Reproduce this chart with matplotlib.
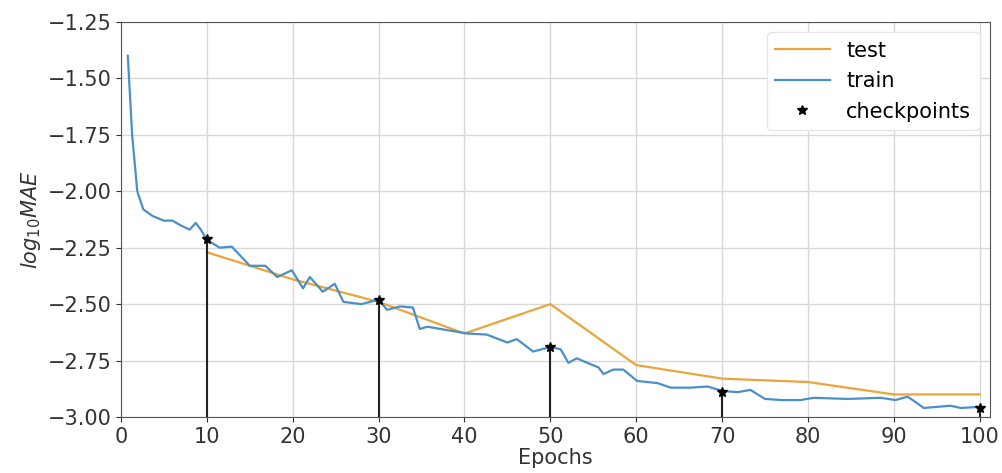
import matplotlib
matplotlib.use("Agg")
import matplotlib.pyplot as plt

# Training loss (log10 MAE) over epochs
train_epochs = [0.8, 1.3, 1.9, 2.6, 3.7, 5.0, 6.0, 6.9, 8.0, 8.7, 9.3, 10.0,
                11.5, 12.9, 15.0, 16.8, 18.2, 19.9, 21.2, 22.0, 23.5, 24.9, 25.9,
                28.0, 30.0, 31.0, 32.5, 34.0, 34.8, 35.7, 37.2, 40.3, 42.6, 45.0,
                46.1, 48.0, 50.0, 51.2, 52.1, 53.1, 54.3, 55.6, 56.2, 57.3, 58.5,
                60.1, 62.5, 64.0, 66.3, 68.3, 70.1, 71.8, 73.3, 75.0, 77.0, 79.1,
                80.7, 84.6, 88.5, 90.2, 91.6, 92.2, 93.5, 95.1, 96.6, 97.8, 100.0]
train_vals = [-1.40, -1.75, -2.00, -2.08, -2.11, -2.13, -2.13, -2.15, -2.17, -2.14,
              -2.17, -2.215, -2.25, -2.245, -2.33, -2.33, -2.38, -2.35, -2.43, -2.38,
              -2.445, -2.41, -2.49, -2.50, -2.48, -2.525, -2.51, -2.515, -2.61, -2.60,
              -2.61, -2.63, -2.635, -2.67, -2.655, -2.71, -2.69, -2.70, -2.76, -2.74,
              -2.76, -2.78, -2.81, -2.79, -2.79, -2.84, -2.85, -2.87, -2.87, -2.865,
              -2.885, -2.89, -2.88, -2.92, -2.925, -2.925, -2.915, -2.92, -2.915,
              -2.925, -2.91, -2.925, -2.96, -2.955, -2.95, -2.96, -2.955]

# Test loss evaluated every 10 epochs
test_epochs = [10, 20, 30, 40, 50, 60, 70, 80, 90, 100]
test_vals = [-2.27, -2.39, -2.49, -2.63, -2.50, -2.77, -2.83, -2.845, -2.90, -2.90]

# Saved checkpoints
ckpt_epochs = [10, 30, 50, 70, 100]
ckpt_vals = [-2.21, -2.48, -2.69, -2.89, -2.96]

FS = 15

fig = plt.figure(figsize=(10.03, 4.73), dpi=100)
ax = fig.add_axes([0.1206, 0.1184, 0.8664, 0.8351])

ax.plot(test_epochs, test_vals, color="#EBA43C", lw=1.6, label="test", zorder=3)
ax.plot(train_epochs, train_vals, color="#4A90C8", lw=1.6, label="train", zorder=4)
ax.vlines(ckpt_epochs, -3.0, ckpt_vals, colors="#222222", lw=1.5, zorder=5)
ax.plot(ckpt_epochs, ckpt_vals, ls="none", marker="*", color="black",
        markersize=7, label="checkpoints", zorder=6)

ax.set_xlim(0, 101.2)
ax.set_ylim(-3.0, -1.25)
ax.set_xticks(range(0, 101, 10))
ax.set_yticks([-3.0, -2.75, -2.5, -2.25, -2.0, -1.75, -1.5, -1.25])
ax.yaxis.set_major_formatter(
    matplotlib.ticker.FuncFormatter(lambda v, _: f"{v:.2f}".replace("-", "\u2212")))
ax.tick_params(labelsize=FS, colors="#333333", labelcolor="#333333")
ax.grid(True, color="#d8d8d8", lw=1.0)
ax.set_axisbelow(True)
for sp in ax.spines.values():
    sp.set_color("#555555")

ax.set_xlabel("Epochs", fontsize=FS, color="#333333", labelpad=1)
ax.set_ylabel("$log_{10}MAE$", fontsize=FS, color="#333333", labelpad=3)

ax.legend(loc="upper right", fontsize=FS, frameon=True, framealpha=1.0,
          edgecolor="#e6e6e6", fancybox=True, handlelength=2.6,
          borderaxespad=0.5)

fig.savefig("out.png", dpi=100)
